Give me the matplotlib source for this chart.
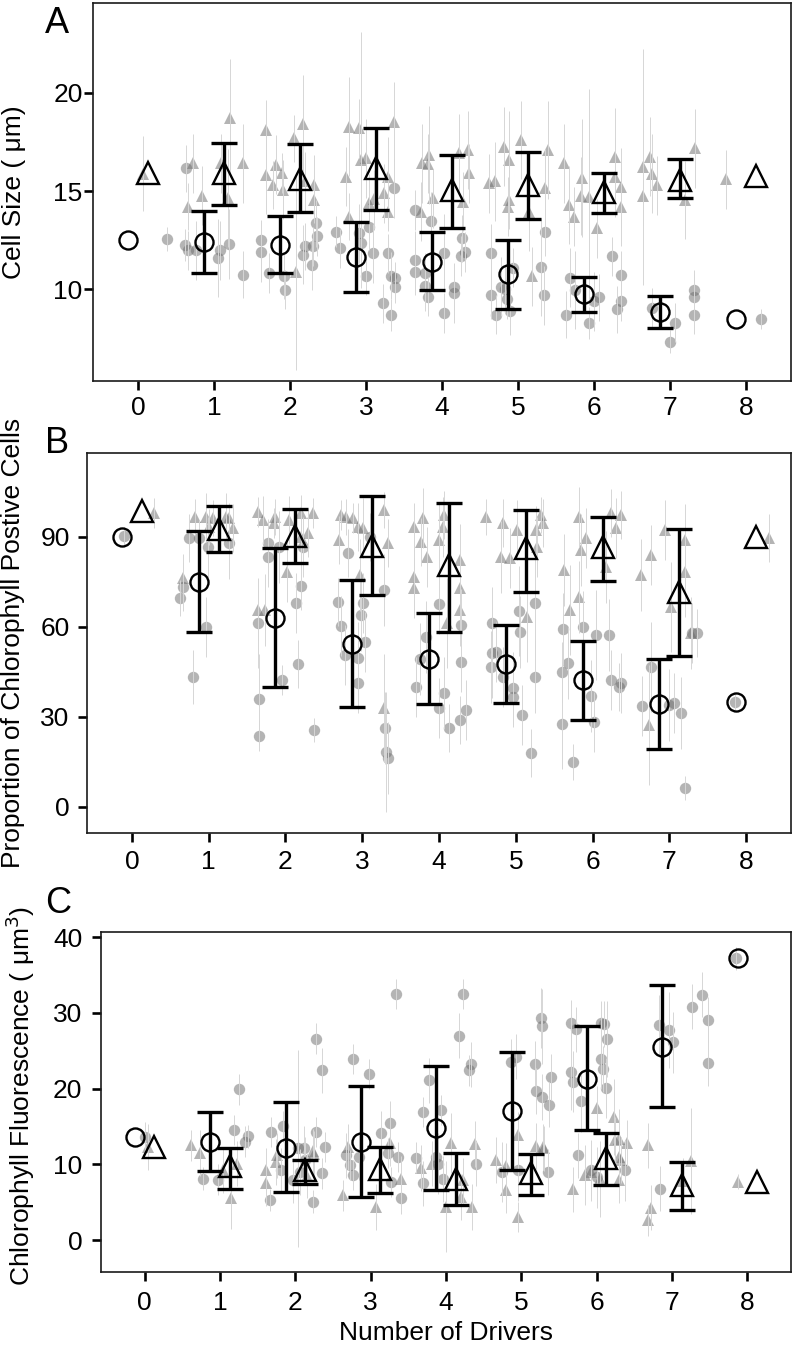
import numpy as np
import matplotlib
matplotlib.use("Agg")
import matplotlib.pyplot as plt

plt.rcParams['font.family'] = ['Liberation Sans', 'DejaVu Sans']

# ---------------- data ----------------
drivers = [0, 1, 2, 3, 4, 5, 6, 7, 8]
xtick_labels = ['0', '1', '2', '3', '4', '5', '6', '7', '8']
nan = np.nan

# Panel A: Cell size (um)
A_circ_mean = [12.52, 12.40, 12.27, 11.64, 11.42, 10.79, 9.78, 8.85, 8.50]
A_circ_lo = [nan, 10.86, 10.86, 9.89, 9.98, 9.01, 8.85, 8.03, nan]
A_circ_hi = [nan, 14.01, 13.76, 13.44, 12.91, 12.52, 10.63, 9.67, nan]
A_tri_mean = [15.93, 15.92, 15.63, 16.17, 15.07, 15.32, 14.98, 15.58, 15.75]
A_tri_lo = [nan, 14.30, 13.95, 14.05, 13.12, 13.59, 13.88, 14.64, nan]
A_tri_hi = [nan, 17.44, 17.41, 18.24, 16.83, 16.98, 15.92, 16.63, nan]

# individual replicates (jittered driver number, value, error)
A_circ_pts = [
    (0.38, 12.56, 0.6),
    (0.63, 16.17, 1.2), (0.62, 12.27, 0.8), (0.66, 12.0, 1.0), (0.77, 12.0, 1.5),
    (1.06, 11.6, 2.0), (1.08, 12.0, 1.5), (1.2, 12.32, 1.8), (1.38, 10.74, 1.2),
    (1.62, 12.52, 1.0), (1.62, 11.9, 1.5), (1.72, 10.83, 1.0), (1.92, 10.7, 1.2),
    (1.93, 9.98, 1.0), (2.17, 11.76, 1.5), (2.2, 12.2, 1.2), (2.3, 12.2, 1.0),
    (2.34, 13.37, 1.2), (2.35, 12.7, 1.0), (2.29, 11.25, 1.3),
    (2.61, 12.94, 0.8), (2.66, 12.1, 1.0), (2.91, 12.86, 1.5), (2.93, 12.35, 1.2),
    (3.0, 10.7, 1.0), (3.04, 13.2, 1.2), (3.09, 11.84, 1.5), (3.22, 9.3, 1.0),
    (3.33, 8.71, 0.8), (3.29, 11.84, 1.0), (3.33, 10.7, 1.2), (3.38, 10.6, 0.8),
    (3.38, 10.1, 0.8), (3.37, 15.15, 1.5),
    (3.64, 14.05, 1.0), (3.64, 11.5, 1.5), (3.64, 10.9, 1.2), (3.77, 10.83, 1.0),
    (3.77, 10.2, 1.3), (3.81, 9.64, 1.0), (3.85, 13.46, 1.5), (4.03, 11.85, 2.0),
    (4.03, 8.8, 1.0), (4.16, 10.15, 1.2), (4.16, 9.8, 1.5), (4.26, 12.6, 1.2),
    (4.25, 11.7, 1.0), (4.3, 11.9, 1.0),
    (4.64, 11.85, 1.5), (4.64, 9.7, 1.2), (4.71, 8.71, 1.0), (4.77, 10.15, 1.5),
    (4.83, 10.0, 1.2), (4.85, 9.5, 1.0), (4.89, 8.9, 1.2), (4.93, 11.1, 1.0),
    (5.3, 11.16, 2.5), (5.34, 9.7, 1.5), (5.36, 12.9, 1.2),
    (5.63, 8.71, 1.2), (5.69, 10.6, 1.5), (5.75, 9.98, 2.0), (5.93, 8.29, 0.8),
    (6.0, 9.4, 1.5), (6.06, 9.6, 1.2), (6.24, 11.68, 1.0), (6.36, 10.74, 1.2),
    (6.36, 9.4, 1.0), (6.3, 9.0, 1.2),
    (6.76, 9.05, 1.0), (7.0, 7.35, 0.6), (7.06, 8.3, 1.0), (7.31, 9.98, 1.0),
    (7.31, 9.6, 1.2), (7.31, 8.71, 1.0),
    (8.2, 8.5, 0.5),
]
A_tri_pts = [
    (0.07, 15.9, 1.9),
    (0.73, 16.42, 1.5), (0.66, 14.22, 1.2), (0.85, 14.76, 1.5), (1.21, 18.71, 3.0),
    (1.10, 16.42, 1.5), (1.38, 16.42, 2.0), (1.19, 14.64, 2.5),
    (1.69, 18.12, 1.5), (1.69, 15.83, 2.0), (1.82, 16.34, 1.5), (1.78, 15.32, 1.2),
    (1.91, 15.07, 1.5), (1.89, 15.92, 1.0), (2.06, 17.70, 1.2), (2.17, 18.42, 2.5),
    (2.2, 15.5, 1.5), (2.32, 15.32, 1.5), (2.32, 14.56, 1.2), (2.08, 10.91, 5.0),
    (2.78, 18.29, 2.5), (2.94, 16.59, 6.5), (2.91, 18.2, 1.5), (2.74, 15.74, 1.5),
    (2.78, 13.71, 1.2), (3.0, 16.68, 2.0), (3.04, 14.39, 1.5), (3.1, 14.6, 1.5),
    (3.24, 14.9, 1.5), (3.29, 13.96, 1.0), (3.29, 15.74, 2.0), (3.37, 18.54, 2.0),
    (3.74, 16.42, 2.0), (3.83, 16.85, 2.5), (3.81, 16.4, 1.5), (3.88, 14.64, 1.5),
    (3.72, 13.96, 1.5), (4.23, 16.93, 2.0), (4.34, 17.1, 2.0), (4.36, 15.92, 1.5),
    (4.27, 14.47, 1.5),
    (4.62, 15.41, 1.5), (4.7, 15.5, 2.0), (4.82, 17.27, 2.0), (4.88, 16.59, 2.5),
    (5.04, 17.61, 2.0), (4.88, 14.56, 1.5), (4.87, 14.2, 1.5), (5.14, 13.96, 2.0),
    (5.39, 17.1, 2.5), (5.36, 15.15, 2.0), (5.19, 10.66, 1.5),
    (5.61, 16.42, 2.0), (5.67, 14.3, 2.0), (5.73, 13.71, 1.5), (5.84, 15.66, 3.0),
    (5.83, 14.75, 2.0), (6.04, 13.12, 1.5), (6.28, 16.76, 2.5), (6.27, 15.7, 2.0),
    (6.35, 15.2, 2.0), (6.35, 14.2, 2.0), (5.93, 14.7, 5.5),
    (6.65, 16.25, 6.0), (6.74, 16.76, 2.0), (6.76, 15.9, 2.0), (6.65, 14.76, 1.5),
    (6.83, 15.3, 1.5), (7.2, 14.56, 2.0), (7.33, 17.18, 2.0),
    (7.74, 15.6, 1.5),
]

# Panel B: proportion of chlorophyll positive cells
B_circ_mean = [90.1, 75.1, 62.9, 54.3, 49.3, 47.6, 42.3, 34.3, 35.1]
B_circ_lo = [nan, 58.2, 40.1, 33.4, 34.3, 34.8, 29.1, 19.2, nan]
B_circ_hi = [nan, 92.1, 86.2, 75.7, 64.8, 60.7, 55.3, 49.2, nan]
B_tri_mean = [98.8, 92.6, 90.3, 87.0, 80.7, 86.2, 86.8, 71.8, 90.1]
B_tri_lo = [nan, 84.9, 81.2, 70.8, 58.2, 71.6, 75.4, 50.3, nan]
B_tri_hi = [nan, 100.3, 99.2, 103.7, 101.2, 99.0, 96.6, 92.6, nan]

B_circ_pts = [
    (-0.1, 90.3, 3),
    (0.67, 73.4, 8), (0.62, 69.6, 6), (0.74, 89.6, 8), (0.88, 89.6, 6), (0.99, 86.8, 10),
    (1.27, 88.1, 12), (0.96, 60.1, 10), (0.8, 43.4, 9),
    (1.77, 87.9, 8), (1.77, 83.4, 10), (1.92, 86.8, 12), (1.64, 61.2, 15), (1.66, 35.9, 15),
    (1.66, 23.7, 5), (1.95, 42.3, 5), (2.16, 47.7, 8), (2.14, 67.9, 10), (2.2, 73.7, 8),
    (2.23, 86.6, 10), (2.37, 25.7, 4),
    (2.81, 84.6, 8), (2.68, 68.4, 8), (2.73, 60.3, 10), (2.77, 50.7, 10), (2.94, 49.6, 12),
    (3.01, 67.9, 10), (2.99, 64.0, 12), (3.03, 55.1, 10), (2.94, 41.2, 10), (3.29, 72.3, 12),
    (3.3, 26.2, 12), (3.31, 18.4, 20), (3.33, 16.2, 12), (3.1, 90.1, 8),
    (4.0, 67.7, 10), (3.83, 56.8, 12), (3.7, 40.1, 10), (3.75, 49.2, 12), (4.06, 37.9, 12),
    (4.0, 32.9, 10), (4.13, 26.2, 8), (4.28, 29.0, 8), (4.35, 32.3, 10), (4.29, 48.4, 10),
    (4.29, 60.7, 12),
    (4.69, 61.2, 12), (4.74, 51.8, 10), (4.68, 46.8, 12), (4.69, 51.2, 15), (4.83, 43.4, 10),
    (4.96, 39.6, 12), (4.96, 36.8, 10), (5.04, 65.4, 15), (5.05, 58.4, 12), (5.25, 67.9, 15),
    (5.25, 43.2, 12), (5.08, 30.7, 10), (5.2, 18.1, 8),
    (5.61, 59.2, 12), (5.6, 45.1, 10), (5.68, 47.9, 12), (5.6, 27.7, 15), (5.75, 15.1, 6),
    (5.87, 60.1, 12), (6.05, 57.3, 15), (5.98, 37.0, 12), (6.02, 28.4, 10), (6.22, 57.3, 12),
    (6.24, 42.3, 10), (6.37, 41.2, 10), (6.35, 40.1, 8),
    (6.65, 33.7, 10), (6.76, 46.8, 15), (6.99, 34.0, 12), (7.06, 34.6, 10), (7.15, 31.4, 12),
    (7.21, 6.2, 4), (7.3, 57.9, 10), (7.36, 57.9, 8),
    (7.85, 35.1, 3),
]
B_tri_pts = [
    (0.29, 97.9, 5),
    (0.67, 76.2, 8), (0.82, 96.8, 6), (0.97, 96.8, 8), (1.06, 96.2, 6), (1.23, 96.8, 8),
    (1.27, 96.2, 5), (1.32, 92.9, 8), (1.0, 93.4, 6),
    (1.64, 98.4, 5), (1.71, 95.7, 8), (1.86, 96.8, 6), (1.85, 94.6, 5), (1.64, 65.7, 10),
    (1.73, 65.7, 12), (2.02, 78.4, 10), (2.05, 95.7, 8), (2.2, 97.9, 6), (2.36, 97.9, 5),
    (2.2, 90.1, 10), (2.3, 91.2, 8),
    (2.73, 97.3, 5), (2.79, 96.8, 6), (2.88, 96.2, 5), (2.7, 89.0, 8), (2.94, 93.4, 8),
    (3.01, 92.9, 10), (2.97, 77.3, 12), (3.29, 99.0, 6), (3.33, 87.9, 8), (3.29, 32.9, 18),
    (3.68, 93.4, 8), (3.79, 96.2, 10), (3.77, 88.4, 8), (3.68, 76.8, 12), (3.68, 72.9, 10),
    (3.85, 83.4, 10), (4.0, 89.0, 12), (4.07, 97.3, 8), (4.05, 93.4, 10), (4.27, 82.3, 12),
    (4.27, 72.9, 10), (4.27, 65.7, 12), (4.11, 61.2, 15),
    (4.61, 96.8, 6), (4.83, 94.6, 8), (4.81, 83.4, 12), (4.92, 82.9, 10), (5.02, 92.3, 10),
    (5.26, 92.3, 8), (5.33, 97.3, 6), (5.35, 94.6, 8), (5.28, 86.8, 10), (5.15, 63.4, 15),
    (5.63, 79.0, 12), (5.7, 65.7, 15), (5.83, 70.1, 12), (5.82, 96.8, 10), (5.85, 85.7, 12),
    (5.91, 89.6, 10), (6.24, 97.9, 8), (6.37, 97.3, 8), (6.3, 92.9, 10), (6.17, 80.1, 12),
    (6.63, 77.3, 12), (6.76, 84.0, 10), (6.95, 92.3, 10), (7.02, 66.8, 15), (7.21, 89.0, 12),
    (7.21, 78.4, 15), (7.28, 57.9, 12), (6.74, 27.3, 20),
    (8.3, 89.6, 8),
]

# Panel C: chlorophyll fluorescence
C_circ_mean = [13.6, 13.0, 12.2, 13.0, 14.8, 17.0, 21.3, 25.5, 37.2]
C_circ_lo = [nan, 9.1, 6.3, 5.7, 6.6, 9.2, 14.6, 17.6, nan]
C_circ_hi = [nan, 16.9, 18.2, 20.3, 23.0, 24.8, 28.2, 33.7, nan]
C_tri_mean = [12.3, 9.8, 9.2, 9.4, 8.1, 8.8, 10.9, 7.3, 7.7]
C_tri_lo = [nan, 6.8, 7.4, 6.2, 4.7, 5.9, 7.3, 4.0, nan]
C_tri_hi = [nan, 12.2, 10.6, 12.3, 11.5, 11.4, 14.2, 10.3, nan]

C_circ_pts = [
    (0.0, 13.6, 2),
    (1.19, 14.5, 2), (1.37, 13.7, 1.5), (1.25, 19.9, 2), (1.33, 13.0, 2), (0.78, 8.1, 1.5),
    (0.97, 8.0, 2),
    (1.68, 14.3, 2), (1.67, 5.3, 1.5), (1.83, 15.0, 2), (1.81, 9.2, 3), (2.03, 12.1, 13),
    (2.12, 12.1, 3), (2.27, 26.6, 2), (2.36, 22.4, 3), (2.27, 14.3, 2), (2.39, 12.3, 2),
    (2.35, 8.8, 2), (2.23, 5.1, 1.5), (1.97, 7.9, 3), (2.13, 10.6, 3), (2.06, 9.0, 3),
    (2.77, 23.9, 2), (2.98, 21.9, 2), (2.67, 11.2, 3), (2.72, 9.9, 2), (2.77, 8.6, 2),
    (2.85, 11.0, 3), (3.14, 14.1, 3), (3.25, 15.4, 3), (3.34, 32.5, 2), (3.27, 7.7, 2),
    (3.36, 11.0, 2), (3.4, 5.5, 2), (3.23, 11.5, 2),
    (3.6, 10.9, 2), (3.69, 7.5, 3), (3.78, 21.1, 3), (3.69, 16.9, 2), (3.93, 17.2, 2),
    (3.89, 10.1, 4), (4.22, 32.5, 2), (4.17, 27.0, 3), (4.33, 23.2, 3), (4.3, 22.4, 2),
    (4.4, 10.1, 3), (3.87, 11.0, 3), (3.96, 8.1, 3),
    (4.86, 23.5, 3), (4.93, 24.2, 3), (4.75, 9.0, 4), (5.26, 29.3, 4), (5.27, 28.2, 5),
    (5.18, 23.3, 3), (5.19, 19.7, 3), (5.28, 18.9, 3), (5.37, 17.9, 3), (5.39, 21.5, 3),
    (5.35, 9.0, 3), (4.95, 9.2, 4),
    (5.66, 28.7, 3), (5.73, 27.8, 3), (5.66, 22.2, 5), (5.68, 20.9, 4), (5.79, 18.3, 4),
    (5.75, 11.2, 3), (5.92, 9.2, 4), (6.06, 28.6, 3), (6.1, 28.5, 3), (6.14, 26.5, 5),
    (6.06, 23.9, 4), (6.08, 22.6, 3), (6.13, 20.1, 4), (6.37, 9.2, 4), (6.0, 8.3, 4),
    (6.83, 28.4, 4), (6.96, 27.7, 5), (7.01, 26.1, 4), (6.84, 6.8, 3), (7.27, 30.8, 3),
    (7.4, 32.4, 3), (7.48, 29.1, 3), (7.48, 23.4, 3),
    (7.85, 37.2, 1.5),
]
C_tri_pts = [
    (0.04, 12.3, 3),
    (0.61, 12.5, 2), (0.73, 11.5, 3), (1.15, 5.5, 4), (1.22, 10.1, 3), (1.04, 9.2, 3),
    (1.61, 9.2, 3), (1.61, 7.5, 3), (1.74, 10.3, 3), (2.23, 11.7, 3), (2.15, 8.5, 3),
    (1.76, 11.2, 3), (2.25, 11.4, 3),
    (2.63, 5.9, 2), (2.7, 12.3, 3), (3.07, 4.4, 3), (3.25, 12.8, 3), (3.4, 8.1, 3),
    (3.67, 9.5, 3), (4.07, 12.8, 4), (4.0, 4.4, 6), (4.22, 7.9, 3), (4.35, 4.4, 3),
    (4.39, 12.7, 3), (3.82, 10.1, 3), (4.2, 5.7, 3),
    (4.66, 10.6, 3), (4.8, 6.6, 3), (4.95, 13.9, 3), (4.95, 3.1, 2), (5.19, 12.4, 3),
    (5.29, 12.3, 3), (4.8, 9.8, 3), (5.3, 12.1, 3),
    (5.68, 6.7, 3), (5.84, 8.6, 4), (6.0, 17.4, 3), (6.23, 16.3, 5), (6.3, 13.3, 4),
    (6.4, 12.8, 3), (6.3, 11.0, 4), (6.3, 7.9, 3), (6.04, 8.1, 5), (5.92, 9.0, 3),
    (6.25, 13.2, 3), (6.32, 10.6, 3),
    (6.68, 12.5, 3), (6.72, 4.3, 3), (6.68, 2.6, 2), (7.25, 10.5, 7), (7.14, 7.8, 3),
    (7.87, 7.7, 1),
]

# ---------------- figure ----------------
W, H = 793, 1346
fig = plt.figure(figsize=(W / 100, H / 100), dpi=100)


def add_ax(left, top, right, bottom):
    return fig.add_axes([left / W, 1 - bottom / H, (right - left) / W, (bottom - top) / H])


axA = add_ax(93, 3, 791, 381)
axB = add_ax(87, 453, 791, 833)
axC = add_ax(101, 932, 791, 1272)

GRAY = '0.42'
LINE_GRAY = '#d6d6d6'
OFF = 0.13


def draw_panel(ax, circ_pts, tri_pts, cm, clo, chi, tm, tlo, thi):
    for pts, mk, ms in ((circ_pts, 'o', 8.2), (tri_pts, '^', 9.2)):
        x = np.array([p[0] for p in pts])
        y = np.array([p[1] for p in pts])
        e = np.array([p[2] for p in pts])
        ax.plot(x, y, linestyle='none', marker=mk, ms=ms, color=GRAY,
                alpha=0.5, markeredgewidth=0, zorder=2)
        ax.vlines(x, y - e, y + e, color=LINE_GRAY, lw=0.7, zorder=3)
    d = np.array(drivers, dtype=float)
    for mean, lo, hi, off, mk, ms in ((cm, clo, chi, -OFF, 'o', 13),
                                       (tm, tlo, thi, OFF, '^', 15.5)):
        mean = np.array(mean)
        lo = np.array(lo)
        hi = np.array(hi)
        ok = ~np.isnan(lo)
        ax.errorbar(d[ok] + off, mean[ok], yerr=[mean[ok] - lo[ok], hi[ok] - mean[ok]],
                    fmt='none', ecolor='black', elinewidth=2.4, capsize=9.5,
                    capthick=2.4, zorder=5)
        ax.plot(d + off, mean, linestyle='none', marker=mk, ms=ms,
                markerfacecolor='none', markeredgecolor='black',
                markeredgewidth=1.7, zorder=6)


draw_panel(axA, A_circ_pts, A_tri_pts, A_circ_mean, A_circ_lo, A_circ_hi,
           A_tri_mean, A_tri_lo, A_tri_hi)
draw_panel(axB, B_circ_pts, B_tri_pts, B_circ_mean, B_circ_lo, B_circ_hi,
           B_tri_mean, B_tri_lo, B_tri_hi)
draw_panel(axC, C_circ_pts, C_tri_pts, C_circ_mean, C_circ_lo, C_circ_hi,
           C_tri_mean, C_tri_lo, C_tri_hi)

axA.set_xlim(-0.59, 8.59)
axA.set_ylim(5.34, 24.58)
axA.set_yticks([10, 15, 20])
axB.set_xlim(-0.585, 8.585)
axB.set_ylim(-8.7, 118)
axB.set_yticks([0, 30, 60, 90])
axC.set_xlim(-0.58, 8.58)
axC.set_ylim(-4.2, 40.66)
axC.set_yticks([0, 10, 20, 30, 40])

for ax, ypad, xpad in ((axA, 1.0, 4.5), (axB, 6.0, 5.5), (axC, 7.0, 7.0)):
    ax.set_xticks(drivers)
    ax.set_xticklabels(xtick_labels)
    for s in ax.spines.values():
        s.set_linewidth(1.2)
        s.set_color('#1a1a1a')
    ax.tick_params(direction='out', length=6.5, width=1.9, labelsize=19, color='black')
    ax.tick_params(axis='y', pad=ypad)
    ax.tick_params(axis='x', pad=xpad)

# axis labels
fig.text(14 / W, 1 - 192 / H, 'Cell Size ( \u03bcm)', rotation=90, ha='center',
         va='center', fontsize=19)
fig.text(13 / W, 1 - 643 / H, 'Proportion of Chlorophyll Postive Cells', rotation=90,
         ha='center', va='center', fontsize=19)
fig.text(20 / W, 1 - 1096 / H, 'Chlorophyll Fluorescence ( \u03bcm$^3$)', rotation=90,
         ha='center', va='center', fontsize=19)
fig.text(446 / W, 1 - 1340 / H, 'Number of Drivers', ha='center', va='baseline',
         fontsize=19)

# panel letters
fig.text(45 / W, 1 - 33 / H, 'A', fontsize=26, ha='left', va='baseline')
fig.text(45 / W, 1 - 453 / H, 'B', fontsize=26, ha='left', va='baseline')
fig.text(45 / W, 1 - 913 / H, 'C', fontsize=26, ha='left', va='baseline')

fig.savefig('out.png', dpi=100)
